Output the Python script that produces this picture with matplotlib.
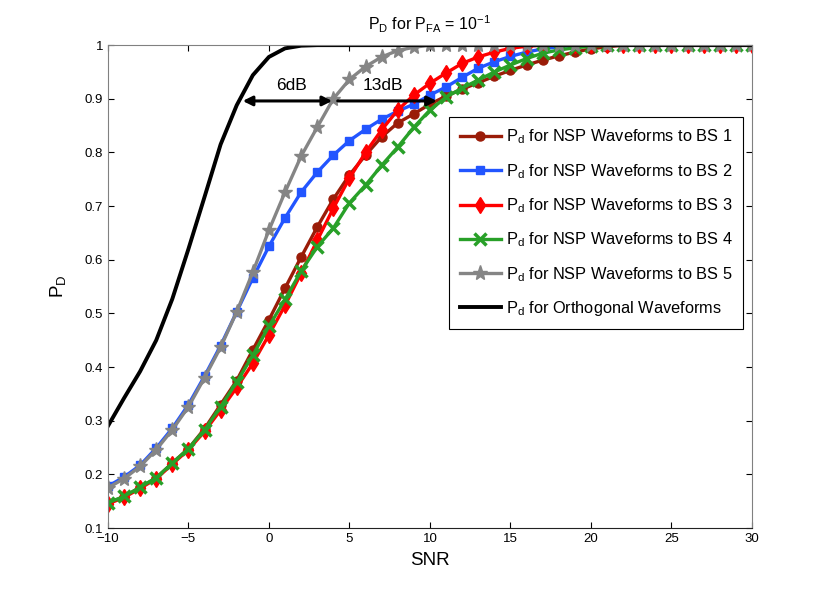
import numpy as np
from matplotlib import pyplot as plt

plt.rcParams['font.family'] = ['Liberation Sans', 'DejaVu Sans']
plt.rcParams['mathtext.fontset'] = 'custom'
plt.rcParams['mathtext.rm'] = 'Liberation Sans'
plt.rcParams['mathtext.it'] = 'Liberation Sans'
plt.rcParams['mathtext.default'] = 'rm'

snr = np.arange(-10, 31)

# detection probability, SNR = -10 .. 30
pd_bs1 = [0.147, 0.158, 0.176, 0.193, 0.221, 0.248, 0.285, 0.330, 0.375, 0.432, 0.488,
          0.547, 0.605, 0.661, 0.713, 0.758, 0.795, 0.829, 0.855, 0.872, 0.890,
          0.905, 0.918, 0.930, 0.942, 0.953, 0.963, 0.972, 0.980, 0.987, 0.993,
          0.997, 1.0, 1.0, 1.0, 1.0, 1.0, 1.0, 1.0, 1.0, 1.0]
pd_bs2 = [0.178, 0.195, 0.217, 0.249, 0.286, 0.330, 0.383, 0.440, 0.503, 0.566, 0.625,
          0.678, 0.726, 0.763, 0.795, 0.822, 0.843, 0.862, 0.877, 0.890, 0.907,
          0.922, 0.940, 0.957, 0.969, 0.979, 0.987, 0.993, 0.997, 1.0, 1.0,
          1.0, 1.0, 1.0, 1.0, 1.0, 1.0, 1.0, 1.0, 1.0, 1.0]
pd_bs3 = [0.145, 0.157, 0.174, 0.192, 0.219, 0.246, 0.280, 0.320, 0.362, 0.407, 0.460,
          0.515, 0.575, 0.636, 0.696, 0.752, 0.800, 0.842, 0.879, 0.907, 0.929,
          0.948, 0.966, 0.978, 0.987, 0.994, 0.998, 1.0, 1.0, 1.0, 1.0,
          1.0, 1.0, 1.0, 1.0, 1.0, 1.0, 1.0, 1.0, 1.0, 1.0]
pd_bs4 = [0.147, 0.159, 0.176, 0.194, 0.221, 0.248, 0.283, 0.326, 0.372, 0.422, 0.476,
          0.526, 0.579, 0.624, 0.659, 0.706, 0.739, 0.776, 0.810, 0.847, 0.879,
          0.903, 0.920, 0.935, 0.950, 0.963, 0.975, 0.985, 0.991, 0.995, 0.998,
          1.0, 1.0, 1.0, 1.0, 1.0, 1.0, 1.0, 1.0, 1.0, 1.0]
pd_bs5 = [0.175, 0.192, 0.215, 0.246, 0.283, 0.326, 0.380, 0.437, 0.503, 0.577, 0.655,
          0.726, 0.793, 0.847, 0.900, 0.936, 0.960, 0.978, 0.990, 0.996, 1.0,
          1.0, 1.0, 1.0, 1.0, 1.0, 1.0, 1.0, 1.0, 1.0, 1.0,
          1.0, 1.0, 1.0, 1.0, 1.0, 1.0, 1.0, 1.0, 1.0, 1.0]
pd_orth = [0.290, 0.342, 0.392, 0.450, 0.527, 0.620, 0.717, 0.815, 0.888, 0.944, 0.978,
           0.994, 0.999, 1.0, 1.0, 1.0, 1.0, 1.0, 1.0, 1.0, 1.0,
           1.0, 1.0, 1.0, 1.0, 1.0, 1.0, 1.0, 1.0, 1.0, 1.0,
           1.0, 1.0, 1.0, 1.0, 1.0, 1.0, 1.0, 1.0, 1.0, 1.0]

fig = plt.figure(figsize=(8.3, 5.94), dpi=100)
ax = fig.add_axes([0.13, 0.111, 0.776, 0.813])

lw = 2.4
ax.plot(snr, pd_bs1, color='#9a1c08', marker='o', ms=6.5, lw=lw,
        label=r'$\mathrm{P_d}$ for NSP Waveforms to BS 1')
ax.plot(snr, pd_bs2, color='#2255ff', marker='s', ms=6, lw=lw,
        label=r'$\mathrm{P_d}$ for NSP Waveforms to BS 2')
ax.plot(snr, pd_bs3, color='#ff0000', marker='d', ms=8.5, lw=lw,
        label=r'$\mathrm{P_d}$ for NSP Waveforms to BS 3')
ax.plot(snr, pd_bs4, color='#28a028', marker='x', ms=8, mew=2.5, lw=lw,
        label=r'$\mathrm{P_d}$ for NSP Waveforms to BS 4')
ax.plot(snr, pd_bs5, color='#858585', marker='*', ms=11, lw=lw,
        label=r'$\mathrm{P_d}$ for NSP Waveforms to BS 5')
ax.plot(snr, pd_orth, color='black', lw=2.8,
        label=r'$\mathrm{P_d}$ for Orthogonal Waveforms')

# gap annotations
ax.annotate('', xy=(-1.8, 0.896), xytext=(4.1, 0.896),
            arrowprops=dict(arrowstyle='<|-|>', color='black', lw=2.2, mutation_scale=14))
ax.annotate('', xy=(10.6, 0.896), xytext=(4.1, 0.896),
            arrowprops=dict(arrowstyle='-|>', color='black', lw=2.2, mutation_scale=14))
ax.text(1.4, 0.925, '6dB', fontsize=12.5, ha='center', va='center')
ax.text(7.1, 0.925, '13dB', fontsize=12.5, ha='center', va='center')

ax.set_xlim(-10, 30)
ax.set_ylim(0.1, 1)
ax.set_xticks(np.arange(-10, 31, 5))
ax.set_xticklabels(['\u221210', '\u22125', '0', '5', '10', '15', '20', '25', '30'])
ax.set_yticks(np.arange(0.1, 1.01, 0.1))
ax.set_yticklabels(['0.1', '0.2', '0.3', '0.4', '0.5', '0.6', '0.7', '0.8', '0.9', '1'])
ax.tick_params(direction='in', top=True, right=True, labelsize=9.5, length=4, width=0.8)
for side in ['left', 'top', 'right']:
    ax.spines[side].set_color('#808080')
ax.spines['bottom'].set_color('#222222')

ax.set_xlabel('SNR', fontsize=13.5, labelpad=5)
ax.set_ylabel(r'$\mathrm{P_D}$', fontsize=13.5, labelpad=12)
ax.set_title(r'$\mathrm{P_D}$ for $\mathrm{P_{FA}}$ = $10^{-1}$', fontsize=11.5, pad=11)

leg = ax.legend(loc='upper left', bbox_to_anchor=(0.53, 0.851), fontsize=11.8,
                fancybox=False, framealpha=1, edgecolor='black', borderpad=0.65,
                borderaxespad=0, labelspacing=0.95, handlelength=2.5,
                handletextpad=0.3, markerscale=1.0)
leg.get_frame().set_linewidth(0.8)

fig.savefig('out.png', dpi=100)
